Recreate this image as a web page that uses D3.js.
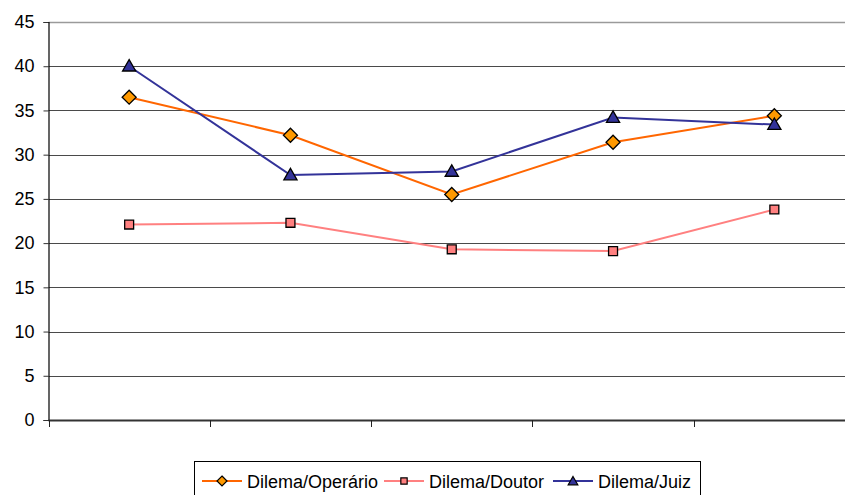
<!DOCTYPE html>
<html>
<head>
<meta charset="utf-8">
<script src="https://cdn.jsdelivr.net/npm/d3@7"></script>
<style>
  html, body { margin: 0; padding: 0; background: #fff; }
  svg { display: block; font-family: "Liberation Sans", Arial, sans-serif; }
</style>
</head>
<body>
<svg id="chart" width="845" height="495"></svg>
<script>
// Scores per situation for the three dilemmas
const categories = ["S1", "S2", "S3", "S4", "S5"];
const operario = [36.5, 32.2, 25.5, 31.4, 34.4];
const doutor   = [22.1, 22.3, 19.3, 19.1, 23.8];
const juiz     = [40.0, 27.7, 28.1, 34.2, 33.4];
const yTicks   = [0, 5, 10, 15, 20, 25, 30, 35, 40, 45];
const seriesNames = ["Dilema/Operário", "Dilema/Doutor", "Dilema/Juiz"];

const series = [
  { name: seriesNames[0], values: operario, line: "#FF6600", fill: "#FF9900", symbol: d3.symbolDiamond2, size: 125, legendSize: 64 },
  { name: seriesNames[1], values: doutor,   line: "#FF8080", fill: "#FF8080", symbol: d3.symbolSquare,   size: 80,  legendSize: 40 },
  { name: seriesNames[2], values: juiz,     line: "#333399", fill: "#333399", symbol: d3.symbolTriangle, size: 75,  legendSize: 40 }
];

const svg = d3.select("#chart");
const plotLeft = 48.5, plotRight = 855, plotTop = 22, plotBottom = 420;

const x = d3.scaleBand().domain(categories).range([plotLeft, plotRight]);
const y = d3.scaleLinear().domain([0, 45]).range([plotBottom, plotTop]);

// Horizontal gridlines
const grid = svg.append("g");
grid.selectAll("line").data(yTicks.filter(t => t > 0)).join("line")
  .attr("x1", plotLeft).attr("x2", plotRight)
  .attr("y1", d => Math.round(y(d)) + 0.5).attr("y2", d => Math.round(y(d)) + 0.5)
  .attr("stroke", d => d === 45 ? "#9a9a9a" : "#4a4a4a")
  .attr("stroke-width", d => d === 45 ? 1.5 : 1);

// Y axis
const yAxis = svg.append("g")
  .attr("transform", `translate(${plotLeft},0)`)
  .call(d3.axisLeft(y).tickValues(yTicks).tickSize(5).tickPadding(9).tickFormat(d3.format("d")));
yAxis.select(".domain").attr("stroke", "#000").attr("stroke-width", 1.2);
yAxis.selectAll(".tick line").attr("stroke", "#333");
yAxis.selectAll(".tick text")
  .attr("font-size", 18).attr("font-family", "Liberation Sans, Arial, sans-serif")
  .attr("fill", "#000");

// X axis (no category labels, ticks on boundaries)
const xAxis = svg.append("g").attr("transform", `translate(0,${plotBottom})`);
xAxis.append("line")
  .attr("x1", plotLeft).attr("x2", plotRight).attr("y1", 0.5).attr("y2", 0.5)
  .attr("stroke", "#333").attr("stroke-width", 2);
const bounds = categories.map(c => x(c)).concat([x(categories[categories.length - 1]) + x.bandwidth()]);
xAxis.selectAll("line.tk").data(bounds).join("line").attr("class", "tk")
  .attr("x1", d => Math.round(d) + 0.5).attr("x2", d => Math.round(d) + 0.5)
  .attr("y1", 0).attr("y2", 7)
  .attr("stroke", "#222").attr("stroke-width", 1);

// Lines and markers
const cx = c => x(c) + x.bandwidth() / 2;
const lineGen = d3.line().x((d, i) => cx(categories[i])).y(d => y(d));

series.forEach(s => {
  svg.append("path").datum(s.values)
    .attr("d", lineGen).attr("fill", "none")
    .attr("stroke", s.line).attr("stroke-width", 2);
});
series.forEach(s => {
  svg.append("g").selectAll("path").data(s.values).join("path")
    .attr("transform", (d, i) => `translate(${cx(categories[i])},${y(d) + (s.symbol === d3.symbolTriangle ? 1 : 0)})`)
    .attr("d", d3.symbol().type(s.symbol).size(s.size))
    .attr("fill", s.fill).attr("stroke", "#000").attr("stroke-width", 1.3);
});

// Legend
const legend = svg.append("g");
legend.append("rect")
  .attr("x", 194.5).attr("y", 461.5).attr("width", 506).attr("height", 40)
  .attr("fill", "#fff").attr("stroke", "#000").attr("stroke-width", 1);
const legendX = [202, 384, 553];
series.forEach((s, i) => {
  const g = legend.append("g").attr("transform", `translate(${legendX[i]},481)`);
  g.append("line").attr("x1", 0).attr("x2", 40).attr("y1", 0).attr("y2", 0)
    .attr("stroke", s.line).attr("stroke-width", 2);
  g.append("path")
    .attr("transform", `translate(20,${s.symbol === d3.symbolTriangle ? 1 : 0})`)
    .attr("d", d3.symbol().type(s.symbol).size(s.legendSize))
    .attr("fill", s.fill).attr("stroke", "#000").attr("stroke-width", 1.2);
  g.append("text").attr("x", 45).attr("y", 6.5)
    .attr("font-size", 18).attr("fill", "#000")
    .text(s.name);
});
</script>
</body>
</html>
